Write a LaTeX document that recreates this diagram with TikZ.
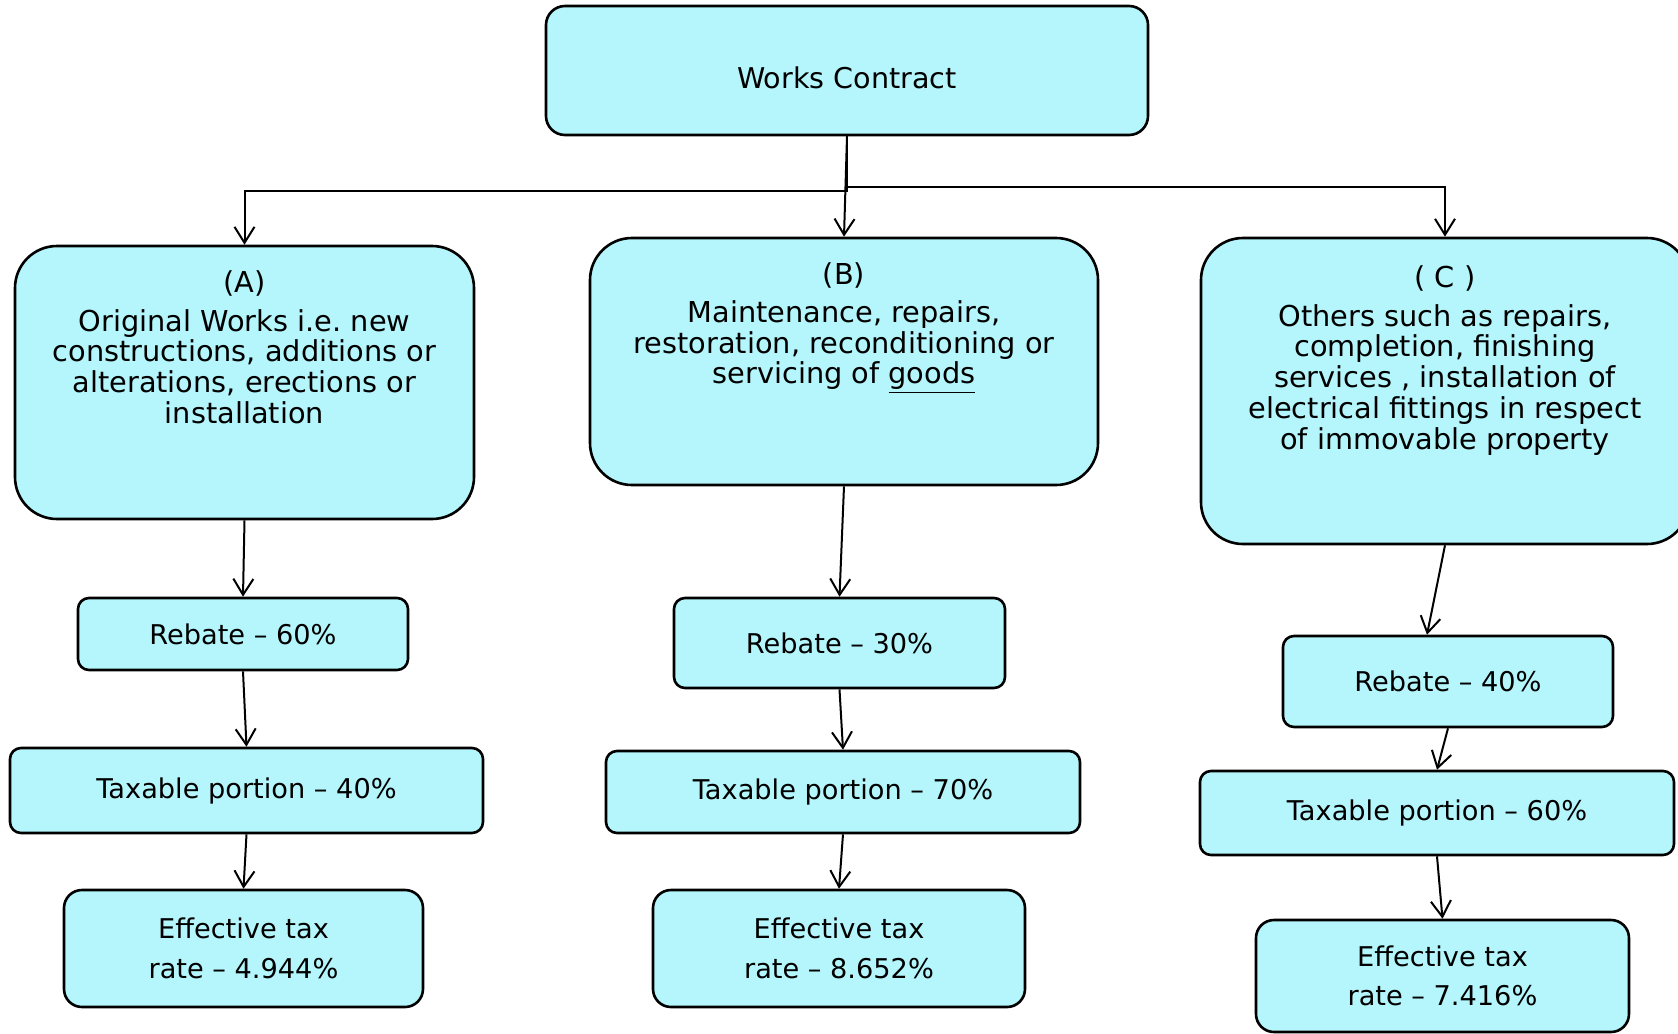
\documentclass[tikz,border=0pt]{standalone}
\usepackage{fontspec}
\setmainfont{DejaVu Sans}
\usetikzlibrary{arrows.meta,positioning}
\definecolor{boxcyan}{RGB}{180,246,252}
\tikzset{
  wbox/.style={draw=black, line width=1.3pt, fill=boxcyan, rounded corners=#1, inner sep=0pt, align=center, font=\fontsize{13.6}{15.4}\selectfont},
  wbox/.default=5.5pt,
  wtext/.style={inner sep=0pt, align=center, font=\fontsize{14.4}{15.4}\selectfont},
  warrow/.style={line width=1pt, -{Straight Barb[length=8pt,width=10pt]}}
}
\begin{document}
\begin{tikzpicture}[x=0.5pt,y=-0.5pt]
	\clip (0,0) rectangle (1678,1034);
	\node[wbox=9.5pt, minimum width=301pt, minimum height=64.5pt, text height=17.6pt, text depth=0pt, font=\fontsize{14.3}{15.4}\selectfont] (wc) at (847,70.5) {Works Contract};
	\node[wbox=21pt, minimum width=229.5pt, minimum height=136.5pt] (orig) at (244.5,382.5) {};
	\node[wtext, below=12.7pt of orig.north] (origtxt) {(A)\\[4pt]Original Works i.e.\ new\\constructions, additions or\\alterations, erections or\\installation};
	\node[wbox=21pt, minimum width=254pt, minimum height=123.5pt] (maint) at (844,361.5) {};
	\node[wtext, below=12.7pt of maint.north] (mainttxt) {(B)\\[3.6pt]Maintenance, repairs,\\restoration, reconditioning or\\servicing of \underline{goods}};
	\node[wbox=21pt, minimum width=244pt, minimum height=153pt] (others) at (1445,391) {};
	\node[wtext, below=14.2pt of others.north] (otherstxt) {( C )\\[4pt]Others such as repairs,\\completion, finishing\\services , installation of\\electrical fittings in respect\\of immovable property};
	\node[wbox, minimum width=165pt, minimum height=36pt] (rebA) at (243,634) {Rebate -- 60\%};
	\node[wbox, minimum width=236.5pt, minimum height=42.5pt] (taxA) at (246.5,790.5) {Taxable portion -- 40\%};
	\node[wbox=9pt, minimum width=179.5pt, minimum height=58.5pt] (effA) at (243.5,948.5) {Effective tax\\[4.4pt]rate -- 4.944\%};
	\node[wbox, minimum width=165.5pt, minimum height=45pt] (rebB) at (839.5,643) {Rebate -- 30\%};
	\node[wbox, minimum width=237pt, minimum height=41pt] (taxB) at (843,792) {Taxable portion -- 70\%};
	\node[wbox=9pt, minimum width=186pt, minimum height=58.5pt] (effB) at (839,948.5) {Effective tax\\[4.4pt]rate -- 8.652\%};
	\node[wbox, minimum width=165pt, minimum height=45.5pt] (rebC) at (1448,681.5) {Rebate -- 40\%};
	\node[wbox, minimum width=237pt, minimum height=42pt] (taxC) at (1437,813) {Taxable portion -- 60\%};
	\node[wbox=9pt, minimum width=186.5pt, minimum height=56pt] (effC) at (1442.5,976) {Effective tax\\[4.4pt]rate -- 7.416\%};
	\draw[warrow] (wc.south) -- (maint.north);
	\draw[warrow] (wc.south) -- ++(0,55) -| (orig.north);
	\draw[warrow] (wc.south) -- ++(0,51) -| (others.north);
	\draw[warrow] (orig.south) -- (rebA.north);
	\draw[warrow] (rebA.south) -- (taxA.north);
	\draw[warrow] (taxA.south) -- (effA.north);
	\draw[warrow] (maint.south) -- (rebB.north);
	\draw[warrow] (rebB.south) -- (taxB.north);
	\draw[warrow] (taxB.south) -- (effB.north);
	\draw[warrow] (others.south) -- ([xshift=-10.5pt]rebC.north);
	\draw[warrow] (rebC.south) -- (taxC.north);
	\draw[warrow] (taxC.south) -- (effC.north);
\end{tikzpicture}
\end{document}
